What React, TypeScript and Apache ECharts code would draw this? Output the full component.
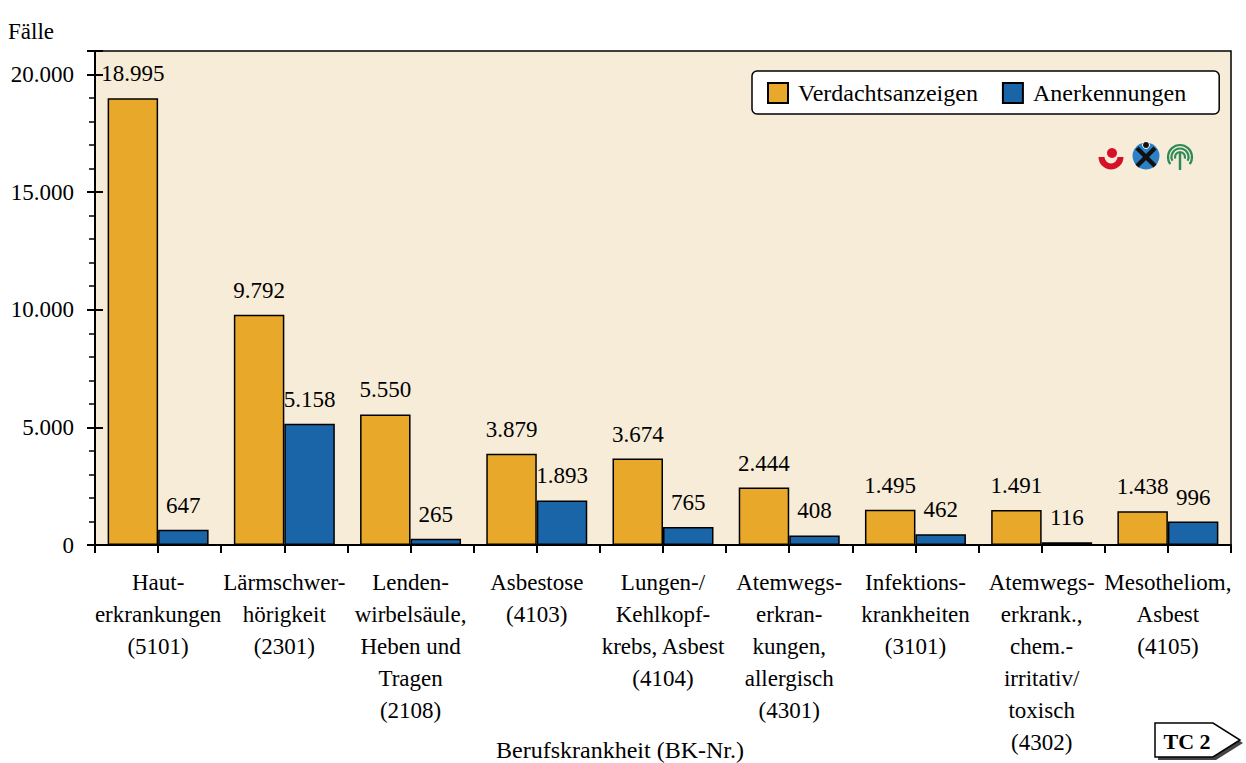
import React, { useEffect, useRef } from 'react';
import * as echarts from 'echarts';

const categories = [
  'Haut-\nerkrankungen\n(5101)',
  'Lärmschwer-\nhörigkeit\n(2301)',
  'Lenden-\nwirbelsäule,\nHeben und\nTragen\n(2108)',
  'Asbestose\n(4103)',
  'Lungen-/\nKehlkopf-\nkrebs, Asbest\n(4104)',
  'Atemwegs-\nerkran-\nkungen,\nallergisch\n(4301)',
  'Infektions-\nkrankheiten\n(3101)',
  'Atemwegs-\nerkrank.,\nchem.-\nirritativ/\ntoxisch\n(4302)',
  'Mesotheliom,\nAsbest\n(4105)',
];
const verdachtsanzeigen = [18995, 9792, 5550, 3879, 3674, 2444, 1495, 1491, 1438];
const anerkennungen = [647, 5158, 265, 1893, 765, 408, 462, 116, 996];
const seriesNames = ['Verdachtsanzeigen', 'Anerkennungen'];
const yAxisTitle = 'Fälle';
const xAxisTitle = 'Berufskrankheit (BK-Nr.)';
const badgeText = 'TC 2';

const fmt = (v: number) => String(Math.round(v)).replace(/\B(?=(\d{3})+(?!\d))/g, '.');

export default function App() {
  const ref = useRef<HTMLDivElement>(null);
  useEffect(() => {
    const chart = echarts.init(ref.current!, null, { renderer: 'svg' });
    const FONT = 'Liberation Serif';
    const ORANGE = '#E8A82A';
    const BLUE = '#1A64A8';
    const GREEN = '#2E8B57';
    const yRange = { min: 0, max: 21000 };
    const barLabel = {
      show: true,
      position: 'top',
      distance: 13,
      fontFamily: FONT,
      fontSize: 23,
      color: '#000',
      formatter: (p: any) => fmt(p.value),
    };
    const option: any = {
      animation: false,
      textStyle: { fontFamily: FONT },
      grid: {
        left: 95,
        right: 15,
        top: 51,
        bottom: 218,
        show: true,
        backgroundColor: '#F7ECD8',
        borderColor: '#000',
        borderWidth: 1.5,
      },
      legend: {
        left: 752,
        top: 71,
        orient: 'horizontal',
        data: seriesNames,
        icon: 'rect',
        itemWidth: 20,
        itemHeight: 20,
        itemGap: 24,
        backgroundColor: '#fff',
        borderColor: '#000',
        borderWidth: 1.5,
        borderRadius: 5,
        padding: [10, 33, 9, 15],
        textStyle: { fontFamily: FONT, fontSize: 24, color: '#000', padding: [0, 0, 0, 5] },
      },
      xAxis: [
        {
          type: 'category',
          position: 'bottom',
          data: categories,
          axisLine: { show: true, lineStyle: { color: '#000', width: 2 } },
          axisTick: { show: true, alignWithLabel: false, interval: 0, length: 8, lineStyle: { color: '#000', width: 2 } },
          axisLabel: {
            interval: 0,
            margin: 21,
            fontFamily: FONT,
            fontSize: 23,
            lineHeight: 32,
            color: '#000',
            align: 'center',
          },
          splitLine: { show: false },
        },
        {
          type: 'category',
          position: 'bottom',
          data: categories,
          axisLine: { show: false },
          axisTick: { show: true, alignWithLabel: true, interval: 0, length: 8, lineStyle: { color: '#000', width: 2 } },
          axisLabel: { show: false },
          splitLine: { show: false },
        },
      ],
      yAxis: [
        {
          type: 'value',
          position: 'left',
          ...yRange,
          interval: 1000,
          axisLine: { show: true, lineStyle: { color: '#000', width: 2 } },
          axisTick: { show: true, length: 6, lineStyle: { color: '#000', width: 1.5 } },
          axisLabel: { show: false },
          splitLine: { show: false },
        },
        {
          type: 'value',
          position: 'left',
          ...yRange,
          interval: 5000,
          axisLine: { show: false },
          axisTick: { show: true, length: 8, lineStyle: { color: '#000', width: 2 } },
          axisLabel: {
            show: true,
            margin: 21,
            fontFamily: FONT,
            fontSize: 23,
            color: '#000',
            formatter: (v: number) => (v > 20000 ? '' : fmt(v)),
          },
          splitLine: { show: false },
        },
        {
          type: 'value',
          position: 'left',
          ...yRange,
          interval: 5000,
          axisLine: { show: false },
          axisTick: { show: true, inside: true, length: 8, lineStyle: { color: '#000', width: 2 } },
          axisLabel: { show: false },
          splitLine: { show: false },
        },
      ],
      series: [
        {
          name: seriesNames[0],
          type: 'bar',
          xAxisIndex: 0,
          yAxisIndex: 0,
          data: verdachtsanzeigen,
          barGap: '0%',
          barCategoryGap: '20%',
          itemStyle: { color: ORANGE, borderColor: '#000', borderWidth: 1.5 },
          label: barLabel,
        },
        {
          name: seriesNames[1],
          type: 'bar',
          xAxisIndex: 0,
          yAxisIndex: 0,
          data: anerkennungen,
          barGap: '0%',
          barCategoryGap: '20%',
          itemStyle: { color: BLUE, borderColor: '#000', borderWidth: 1.5 },
          label: barLabel,
        },
      ],
      graphic: [
        {
          type: 'text',
          left: 8,
          top: 20,
          style: { text: yAxisTitle, fontFamily: FONT, fontSize: 23, fill: '#000' },
        },
        {
          type: 'text',
          x: 620,
          y: 750,
          style: {
            text: xAxisTitle,
            fontFamily: FONT,
            fontSize: 24,
            fill: '#000',
            align: 'center',
            verticalAlign: 'middle',
          },
        },
        // badge shadow
        {
          type: 'polygon',
          shape: { points: [[1158, 726], [1216, 726], [1243, 743], [1216, 760], [1158, 760]] },
          style: { fill: '#444' },
        },
        {
          type: 'polygon',
          shape: { points: [[1155, 723], [1213, 723], [1240, 740], [1213, 757], [1155, 757]] },
          style: { fill: '#fff', stroke: '#000', lineWidth: 1.5 },
        },
        {
          type: 'text',
          x: 1187,
          y: 741,
          style: {
            text: badgeText,
            fontFamily: FONT,
            fontSize: 22,
            fontWeight: 'bold',
            fill: '#000',
            align: 'center',
            verticalAlign: 'middle',
          },
        },
        // red logo
        {
          type: 'sector',
          shape: { cx: 1111, cy: 157, r: 12.5, r0: 6.5, startAngle: 0, endAngle: Math.PI, clockwise: true },
          style: { fill: '#D7102A' },
        },
        {
          type: 'circle',
          shape: { cx: 1112, cy: 153, r: 5 },
          style: { fill: '#D7102A' },
        },
        // blue logo
        {
          type: 'circle',
          shape: { cx: 1146, cy: 156, r: 13.5 },
          style: { fill: '#2B80C6' },
        },
        {
          type: 'line',
          shape: { x1: 1137, y1: 148, x2: 1155, y2: 166 },
          style: { stroke: '#111', lineWidth: 4.5 },
        },
        {
          type: 'line',
          shape: { x1: 1155, y1: 148, x2: 1137, y2: 166 },
          style: { stroke: '#111', lineWidth: 4.5 },
        },
        {
          type: 'circle',
          shape: { cx: 1146, cy: 145, r: 3.5 },
          style: { fill: '#111', stroke: '#fff', lineWidth: 1 },
        },
        // green logo
        {
          type: 'arc',
          shape: { cx: 1180, cy: 157, r: 12, startAngle: Math.PI * 0.8, endAngle: Math.PI * 2.2 },
          style: { stroke: GREEN, lineWidth: 2.2, fill: 'none' },
        },
        {
          type: 'arc',
          shape: { cx: 1180, cy: 157, r: 8.5, startAngle: Math.PI * 0.85, endAngle: Math.PI * 2.15 },
          style: { stroke: GREEN, lineWidth: 2.2, fill: 'none' },
        },
        {
          type: 'arc',
          shape: { cx: 1180, cy: 157, r: 5, startAngle: Math.PI * 0.9, endAngle: Math.PI * 2.1 },
          style: { stroke: GREEN, lineWidth: 2.2, fill: 'none' },
        },
        {
          type: 'line',
          shape: { x1: 1180, y1: 153, x2: 1180, y2: 170 },
          style: { stroke: GREEN, lineWidth: 2.5 },
        },
      ],
    };
    chart.setOption(option);
    return () => chart.dispose();
  }, []);
  return (
    <div
      ref={ref}
      style={{ position: 'fixed', left: 0, top: 0, width: 1246, height: 763, background: '#fff' }}
    />
  );
}
